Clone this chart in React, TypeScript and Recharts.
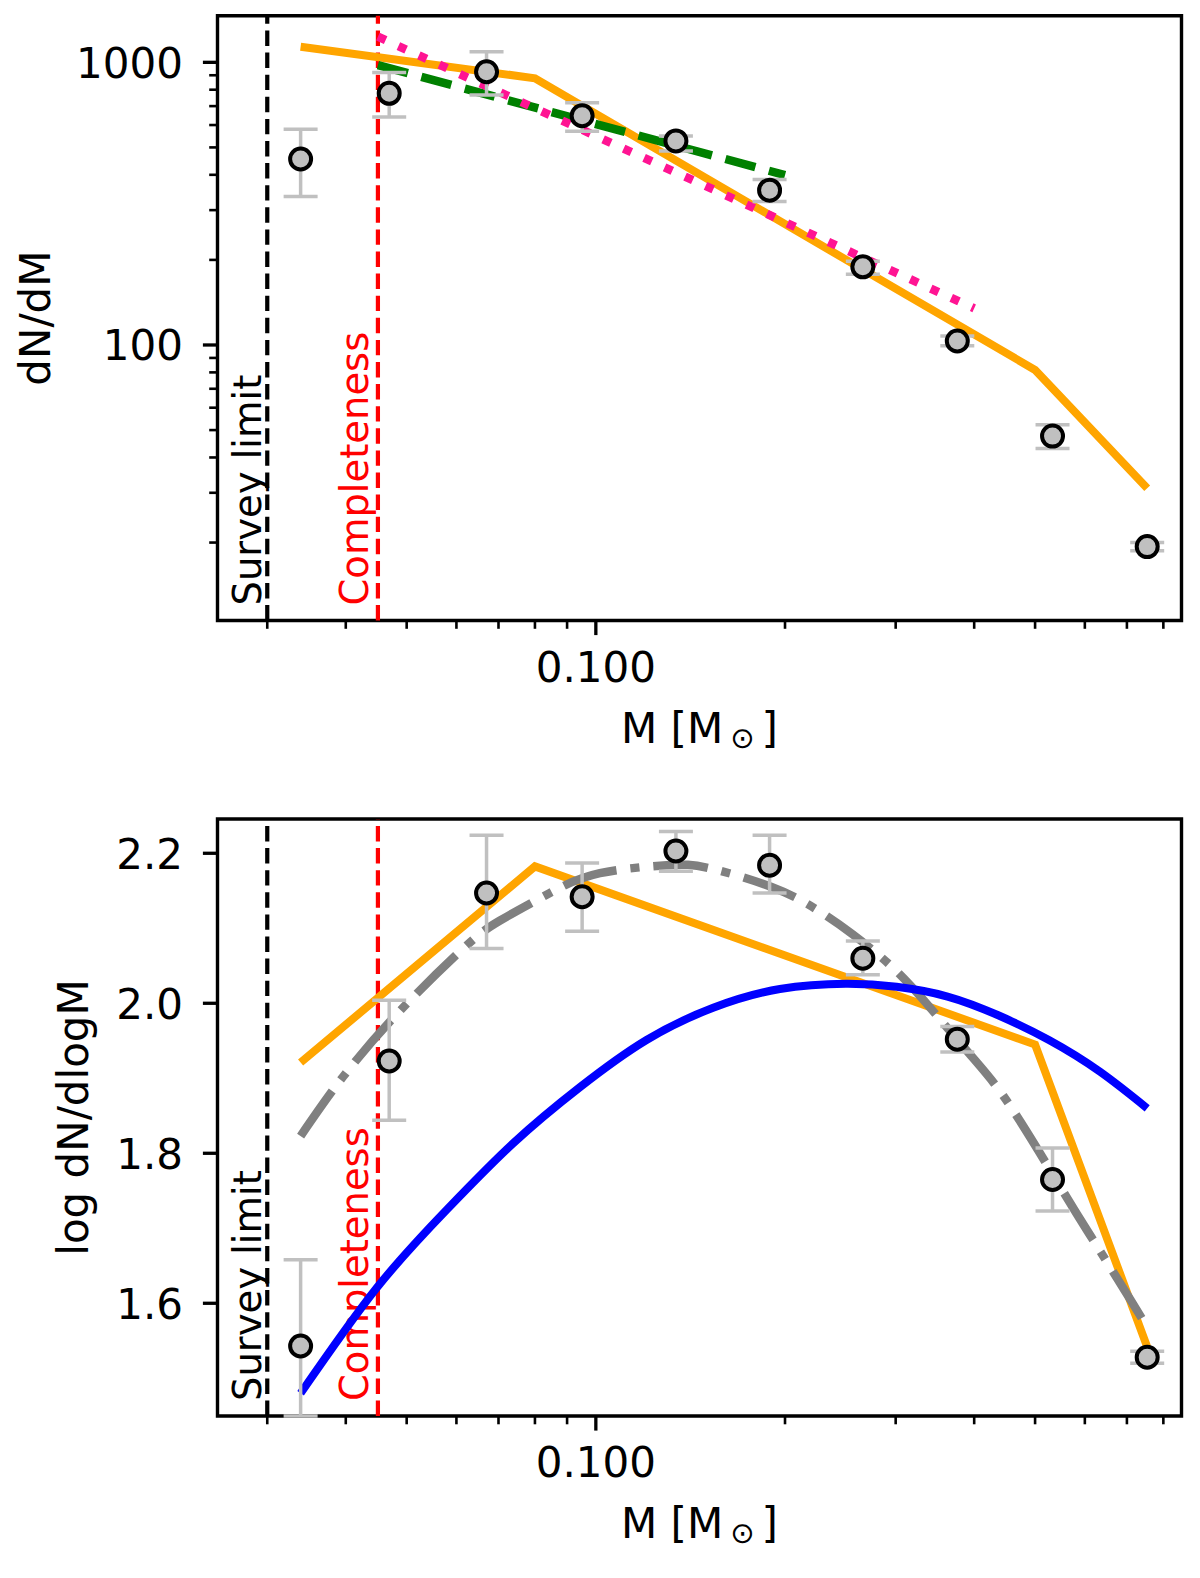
import {
  ComposedChart,
  Line,
  Scatter,
  XAxis,
  YAxis,
  ErrorBar,
  ReferenceLine,
  ReferenceArea,
} from "recharts";

const FONT = "DejaVu Sans";

// mass bin centres [Msun]
const MASS = [0.0339, 0.0469, 0.067, 0.0951, 0.1341, 0.189, 0.266, 0.376, 0.533, 0.754];

// top panel: dN/dM with error range
const DNDM = [455, 777, 926, 647, 527, 353, 189, 103.3, 47.6, 19.35];
const DNDM_LOW = [335, 640, 766, 570, 486, 322, 178, 99.4, 43.0, 18.7];
const DNDM_HIGH = [580, 920, 1090, 720, 549, 385, 198, 107.5, 52.2, 20.0];

// bottom panel: log dN/dlogM with error range (first bar runs off the bottom)
const LOGDN = [1.543, 1.923, 2.147, 2.142, 2.203, 2.184, 2.06, 1.952, 1.765, 1.528];
const LOGDN_LOW = [1.4497, 1.844, 2.073, 2.096, 2.176, 2.147, 2.038, 1.935, 1.723, 1.52];
const LOGDN_HIGH = [1.658, 2.004, 2.224, 2.187, 2.229, 2.224, 2.083, 1.969, 1.807, 1.536];

// broken power law (orange)
const KROUPA_M = [0.0339, 0.08, 0.5, 0.754];
const KROUPA_DNDM = [1136, 878, 81.6, 31.1];
const KROUPA_LOG = [1.921, 2.1825, 1.945, 1.542];

// single power-law fits (top panel)
const PL_GREEN_M = [0.045, 0.2];
const PL_GREEN_DNDM = [978, 399];
const PL_PINK_M = [0.045, 0.4];
const PL_PINK_DNDM = [1232, 134.8];

// lognormal fit (grey dash-dot)
const LN_M = [0.0339, 0.0396, 0.0488, 0.0615, 0.0703, 0.0845, 0.1015, 0.1296, 0.1519, 0.1904,
  0.2236, 0.2563, 0.2938, 0.3325, 0.3955, 0.459, 0.5597, 0.6179, 0.7087, 0.754];
const LN_LOG = [1.823, 1.902, 1.99, 2.073, 2.11, 2.147, 2.1735, 2.184, 2.18, 2.155,
  2.126, 2.092, 2.051, 2.004, 1.93, 1.86, 1.743, 1.685, 1.605, 1.568];

// reference lognormal (blue)
const REF_M = [0.0339, 0.04475, 0.0578, 0.0738, 0.0943, 0.1204, 0.1537, 0.1963,
  0.25, 0.301, 0.3628, 0.4368, 0.526, 0.6336, 0.754];
const REF_LOG = [1.48, 1.62, 1.724, 1.813, 1.888, 1.951, 1.994, 2.019,
  2.026, 2.022, 2.009, 1.984, 1.951, 1.909, 1.86];

const SURVEY_LIMIT = 0.03;
const COMPLETENESS = 0.045;

const X_DOMAIN = [0.025, 0.855];
const X_TICKS = [0.03, 0.04, 0.05, 0.06, 0.07, 0.08, 0.09, 0.1, 0.2, 0.3, 0.4, 0.5, 0.6, 0.7, 0.8];
const X_MAJOR = [0.1];

const TOP_Y_DOMAIN = [10.6, 1462];
const TOP_Y_TICKS = [20, 30, 40, 50, 60, 70, 80, 90, 100, 200, 300, 400, 500, 600, 700, 800, 900, 1000];
const TOP_Y_MAJOR = [100, 1000];

const BOT_Y_DOMAIN = [1.4497, 2.2457];
const BOT_Y_TICKS = [1.6, 1.8, 2.0, 2.2];

function series(xs: number[], ys: number[]) {
  return xs.map((m, i) => ({ m, v: ys[i] }));
}

function withErr(xs: number[], ys: number[], lo: number[], hi: number[]) {
  return xs.map((m, i) => ({ m, v: ys[i], err: [ys[i] - lo[i], hi[i] - ys[i]] }));
}

function XTick(props: any) {
  const { x, y, payload } = props;
  const major = X_MAJOR.includes(payload.value);
  return (
    <g>
      <line x1={x} x2={x} y1={y} y2={y + (major ? 14.6 : 8.3)} stroke="#000" strokeWidth={major ? 3.3 : 2.6} />
      {major && (
        <text x={x} y={y + 61} textAnchor="middle" fontSize={42} fontFamily={FONT} fill="#000">
          {payload.value.toFixed(3)}
        </text>
      )}
    </g>
  );
}

function TopYTick(props: any) {
  const { x, y, payload } = props;
  const major = TOP_Y_MAJOR.includes(payload.value);
  return (
    <g>
      <line x1={x} x2={x - (major ? 14.6 : 8.3)} y1={y} y2={y} stroke="#000" strokeWidth={major ? 3.3 : 2.6} />
      {major && (
        <text x={x - 34.5} y={y + 15.3} textAnchor="end" fontSize={42} fontFamily={FONT} fill="#000">
          {String(payload.value)}
        </text>
      )}
    </g>
  );
}

function BotYTick(props: any) {
  const { x, y, payload } = props;
  return (
    <g>
      <line x1={x} x2={x - 14.6} y1={y} y2={y} stroke="#000" strokeWidth={3.3} />
      <text x={x - 34.5} y={y + 15.3} textAnchor="end" fontSize={42} fontFamily={FONT} fill="#000">
        {payload.value.toFixed(1)}
      </text>
    </g>
  );
}

function XTitle(props: any) {
  const { x, y, width } = props.viewBox;
  return (
    <text x={x + width / 2} y={y + 122} textAnchor="middle" fontSize={42} fontFamily={FONT} fill="#000">
      M [M
      <tspan fontSize={29} dx={7} dy={5}>⊙</tspan>
      <tspan dx={7} dy={-5}>]</tspan>
    </text>
  );
}

function YTitle(props: any) {
  const { x, y, height } = props.viewBox;
  const bx = x + props.offsetX;
  const cy = y + height / 2;
  return (
    <text
      x={bx}
      y={cy}
      transform={`rotate(-90 ${bx} ${cy})`}
      textAnchor="middle"
      fontSize={42}
      fontFamily={FONT}
      fill="#000"
    >
      {props.text}
    </text>
  );
}

function VLabel(props: any) {
  const { x, y, height } = props.viewBox;
  const bx = x + props.offsetX;
  const by = y + height - 15;
  return (
    <text
      x={bx}
      y={by}
      transform={`rotate(-90 ${bx} ${by})`}
      fontSize={38.5}
      fontFamily={FONT}
      fill={props.color}
    >
      {props.text}
    </text>
  );
}

function Marker(props: any) {
  return <circle cx={props.cx} cy={props.cy} r={10.5} fill="#c0c0c0" stroke="#000" strokeWidth={4} />;
}

function NoMarker() {
  return <g />;
}

function limitLines() {
  return [
    <ReferenceLine
      key="survey"
      x={SURVEY_LIMIT}
      stroke="#000"
      strokeWidth={4.2}
      strokeDasharray="15.4 6.7"
      label={<VLabel text="Survey limit" color="#000" offsetX={-6} />}
    />,
    <ReferenceLine
      key="compl"
      x={COMPLETENESS}
      stroke="#ff0000"
      strokeWidth={4.2}
      strokeDasharray="15.4 6.7"
      label={<VLabel text="Completeness" color="#ff0000" offsetX={-9.5} />}
    />,
  ];
}

// error bars first, markers drawn over them
function points(data: any[]) {
  return [
    <Scatter key="err" data={data} dataKey="v" shape={NoMarker} isAnimationActive={false}>
      <ErrorBar dataKey="err" direction="y" width={17} strokeWidth={3.5} stroke="#c0c0c0" isAnimationActive={false} />
    </Scatter>,
    <Scatter key="pts" data={data} dataKey="v" shape={Marker} isAnimationActive={false} />,
  ];
}

function xAxis(height: number) {
  return (
    <XAxis
      type="number"
      dataKey="m"
      scale="log"
      domain={X_DOMAIN}
      allowDataOverflow
      ticks={X_TICKS}
      interval={0}
      tick={<XTick />}
      tickSize={0}
      tickMargin={0}
      tickLine={false}
      axisLine={false}
      height={height}
      label={<XTitle />}
    />
  );
}

export default function App() {
  const topPoints = withErr(MASS, DNDM, DNDM_LOW, DNDM_HIGH);
  const botPoints = withErr(MASS, LOGDN, LOGDN_LOW, LOGDN_HIGH);

  return (
    <div style={{ position: "absolute", left: 0, top: 0, width: 1200, height: 1578, background: "#fff" }}>
      <ComposedChart width={1200} height={795} margin={{ top: 15.7, right: 18.5, bottom: 0, left: 0 }}>
        {xAxis(174.5)}
        <YAxis
          type="number"
          scale="log"
          domain={TOP_Y_DOMAIN}
          allowDataOverflow
          ticks={TOP_Y_TICKS}
          interval={0}
          tick={<TopYTick />}
          tickSize={0}
          tickMargin={0}
          tickLine={false}
          axisLine={false}
          width={217.5}
          label={<YTitle text="dN/dM" offsetX={50} />}
        />
        {limitLines()}
        <Line
          data={series(KROUPA_M, KROUPA_DNDM)}
          dataKey="v"
          type="linear"
          stroke="#ffa500"
          strokeWidth={8}
          dot={false}
          isAnimationActive={false}
        />
        <Line
          data={series(PL_GREEN_M, PL_GREEN_DNDM)}
          dataKey="v"
          type="linear"
          stroke="#008000"
          strokeWidth={8.5}
          strokeDasharray="31 14"
          dot={false}
          isAnimationActive={false}
        />
        <Line
          data={series(PL_PINK_M, PL_PINK_DNDM)}
          dataKey="v"
          type="linear"
          stroke="#ff1493"
          strokeWidth={8.5}
          strokeDasharray="8.5 14"
          dot={false}
          isAnimationActive={false}
        />
        {points(topPoints)}
        <ReferenceArea
          x1={X_DOMAIN[0]}
          x2={X_DOMAIN[1]}
          y1={TOP_Y_DOMAIN[0]}
          y2={TOP_Y_DOMAIN[1]}
          fill="none"
          fillOpacity={0}
          stroke="#000"
          strokeWidth={3.4}
          strokeOpacity={1}
        />
      </ComposedChart>

      <ComposedChart width={1200} height={783} margin={{ top: 24, right: 18.5, bottom: 0, left: 0 }}>
        {xAxis(162)}
        <YAxis
          type="number"
          domain={BOT_Y_DOMAIN}
          allowDataOverflow
          ticks={BOT_Y_TICKS}
          interval={0}
          tick={<BotYTick />}
          tickSize={0}
          tickMargin={0}
          tickLine={false}
          axisLine={false}
          width={217.5}
          label={<YTitle text="log dN/dlogM" offsetX={88} />}
        />
        {limitLines()}
        <Line
          data={series(KROUPA_M, KROUPA_LOG)}
          dataKey="v"
          type="linear"
          stroke="#ffa500"
          strokeWidth={8}
          dot={false}
          isAnimationActive={false}
        />
        <Line
          data={series(LN_M, LN_LOG)}
          dataKey="v"
          type="natural"
          stroke="#808080"
          strokeWidth={8.5}
          strokeDasharray="55 14 9 14"
          dot={false}
          isAnimationActive={false}
        />
        <Line
          data={series(REF_M, REF_LOG)}
          dataKey="v"
          type="natural"
          stroke="#0000ff"
          strokeWidth={8}
          dot={false}
          isAnimationActive={false}
        />
        {points(botPoints)}
        <ReferenceArea
          x1={X_DOMAIN[0]}
          x2={X_DOMAIN[1]}
          y1={BOT_Y_DOMAIN[0]}
          y2={BOT_Y_DOMAIN[1]}
          fill="none"
          fillOpacity={0}
          stroke="#000"
          strokeWidth={3.4}
          strokeOpacity={1}
        />
      </ComposedChart>
    </div>
  );
}
